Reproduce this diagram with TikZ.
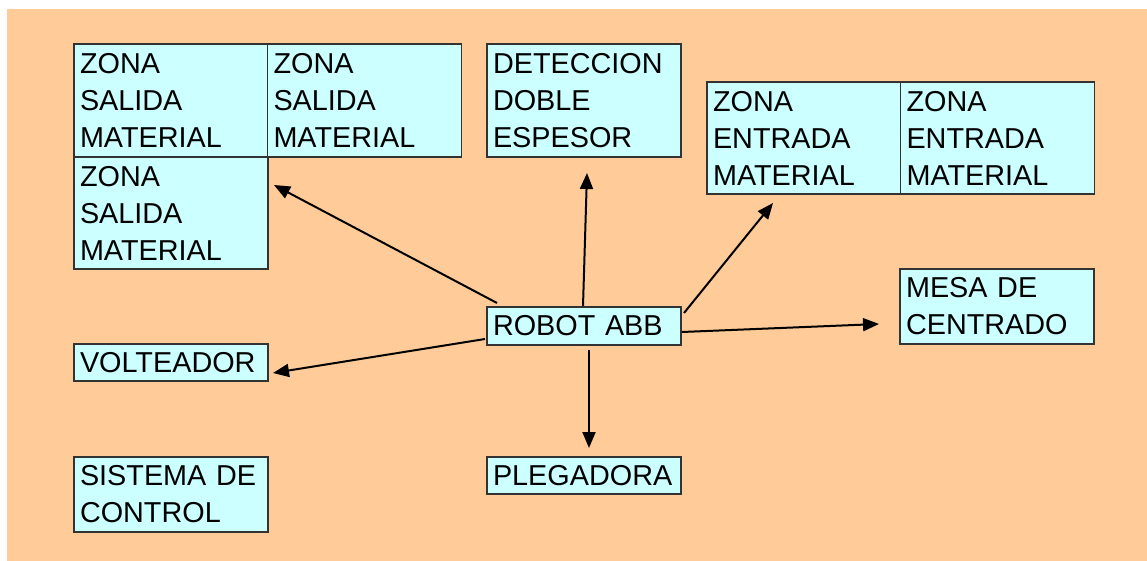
\documentclass[tikz,border=0pt]{standalone}
\usepackage{fontspec}
\setmainfont{Liberation Sans}
\usetikzlibrary{arrows.meta}
\definecolor{bgorange}{HTML}{FFCC99}
\definecolor{boxcyan}{HTML}{CCFFFF}
\definecolor{edgegray}{HTML}{333333}
\tikzset{
  box/.style={draw=edgegray, line width=1.6pt, fill=boxcyan, rectangle,
    inner xsep=6pt, inner ysep=0pt, align=left, text width=182pt,
    minimum width=194pt, font=\fontsize{28.8}{37}\selectfont},
  arr/.style={line width=2pt, -{Triangle[length=16pt,width=13pt]}}
}
\begin{document}
\begin{tikzpicture}[x=1pt,y=-1pt]
\useasboundingbox (0,0) rectangle (1147,561);
\fill[bgorange] (7,9) rectangle (1147,561);
% boxes
\node[box, minimum height=113pt] (zsm1) at (171,100.5) {ZONA\\SALIDA\\MATERIAL};
\node[box, minimum height=113pt] (zsm2) at (364.5,100.5) {ZONA\\SALIDA\\MATERIAL};
\node[box, minimum height=112pt] (zsm3) at (171,213) {ZONA\\SALIDA\\MATERIAL};
\node[box, minimum height=113pt] (det) at (584,100.5) {DETECCION\\DOBLE\\ESPESOR};
\node[box, minimum height=112pt] (zem1) at (804,138) {ZONA\\ENTRADA\\MATERIAL};
\node[box, minimum height=112pt] (zem2) at (997.5,138) {ZONA\\ENTRADA\\MATERIAL};
\node[box, minimum height=75pt] (mesa) at (997,306.5) {MESA DE\\CENTRADO};
\node[box, minimum height=38pt] (robot) at (584,326) {ROBOT ABB};
\node[box, minimum height=37pt] (pleg) at (584,475.5) {PLEGADORA};
\node[box, minimum height=37pt] (volt) at (171,362.5) {VOLTEADOR};
\node[box, minimum height=75pt] (sist) at (171,494.5) {SISTEMA DE\\CONTROL};
% connector ends
\coordinate (s1) at (497,303);  \coordinate (t1) at (274,185);
\coordinate (s2) at (583,306);  \coordinate (t2) at (587,173);
\coordinate (s3) at (684,313);  \coordinate (t3) at (773,203);
\coordinate (s4) at (682,332);  \coordinate (t4) at (879,324);
\coordinate (s5) at (485,339);  \coordinate (t5) at (273,373);
\coordinate (s6) at (589,350);  \coordinate (t6) at (589,448);
\draw[arr] (s1) -- (t1);
\draw[arr] (s2) -- (t2);
\draw[arr] (s3) -- (t3);
\draw[arr] (s4) -- (t4);
\draw[arr] (s5) -- (t5);
\draw[arr] (s6) -- (t6);
\end{tikzpicture}
\end{document}
